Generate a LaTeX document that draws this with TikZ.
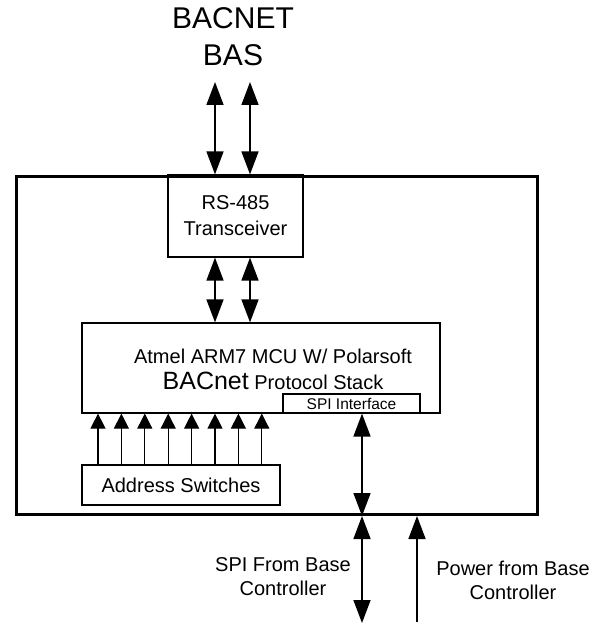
\documentclass[tikz,border=0pt]{standalone}
\usepackage{fontspec}
\setmainfont{Liberation Sans}
\usetikzlibrary{arrows.meta}

\tikzset{
  blk/.style={draw, line width=1.2pt, inner sep=0pt, align=center, font=\fontsize{20}{26}\selectfont},
  lbl/.style={align=center, font=\fontsize{20}{24}\selectfont},
  dbl/.style={line width=1.5pt, {Triangle[width=17pt,length=23pt]}-{Triangle[width=17pt,length=23pt]}},
  pwr/.style={line width=1.5pt, -{Triangle[width=17pt,length=23pt]}},
  swarrow/.style={line width=1.2pt, -{Triangle[width=15pt,length=15pt]}}
}

\begin{document}
\begin{tikzpicture}[x=1pt,y=-1pt]
\useasboundingbox (0,0) rectangle (603,628);

% network side
\node[lbl, font=\fontsize{30}{37}\selectfont] (bas) at (233,37) {BACNET\\BAS};
\coordinate (busA) at (215,82);
\coordinate (busB) at (250,82);

% board outline
\node[draw, line width=3pt, inner sep=0pt, minimum width=521pt, minimum height=338pt, anchor=north west] (board) at (15,175) {};

% blocks
\node[blk, minimum width=135pt, minimum height=82pt] (xcvr) at (235.5,216) {RS-485\\Transceiver};
\node[blk, minimum width=358pt, minimum height=90pt,
      label={[xshift=12pt, yshift=-1pt, align=center, font=\fontsize{20}{26}\selectfont]center:Atmel ARM7 MCU W/ Polarsoft\\{\fontsize{25}{26}\selectfont BACnet} Protocol Stack}] (mcu) at (261,368) {};
\node[blk, font=\fontsize{15.5}{18}\selectfont, minimum width=137pt, minimum height=19pt] (spi) at (351.5,403.5) {SPI Interface};
\node[blk, minimum width=198pt, minimum height=40pt] (switches) at (181,485) {Address Switches};

% RS-485 bus
\draw[dbl] (busA) -- (busA |- xcvr.north);
\draw[dbl] (busB) -- (busB |- xcvr.north);
\draw[dbl] (busA |- xcvr.south) -- (busA |- mcu.north);
\draw[dbl] (busB |- xcvr.south) -- (busB |- mcu.north);

% address inputs
\foreach \k in {0,...,7}{
  \coordinate (sw\k) at ({98+23.4*\k},0);
  \draw[swarrow] (sw\k |- switches.north) -- (sw\k |- mcu.south);
}

% base controller side
\coordinate (spiline) at (362,623);
\coordinate (pwrline) at (417,622);
\draw[dbl] (spiline |- spi.south) -- (spiline |- board.south);
\draw[dbl] (spiline |- board.south) -- (spiline);
\draw[pwr] (pwrline) -- (pwrline |- board.south);

\node[lbl] (spitxt) at (283,577) {SPI From Base\\Controller};
\node[lbl] (pwrtxt) at (513,580) {Power from Base\\Controller};
\end{tikzpicture}
\end{document}
